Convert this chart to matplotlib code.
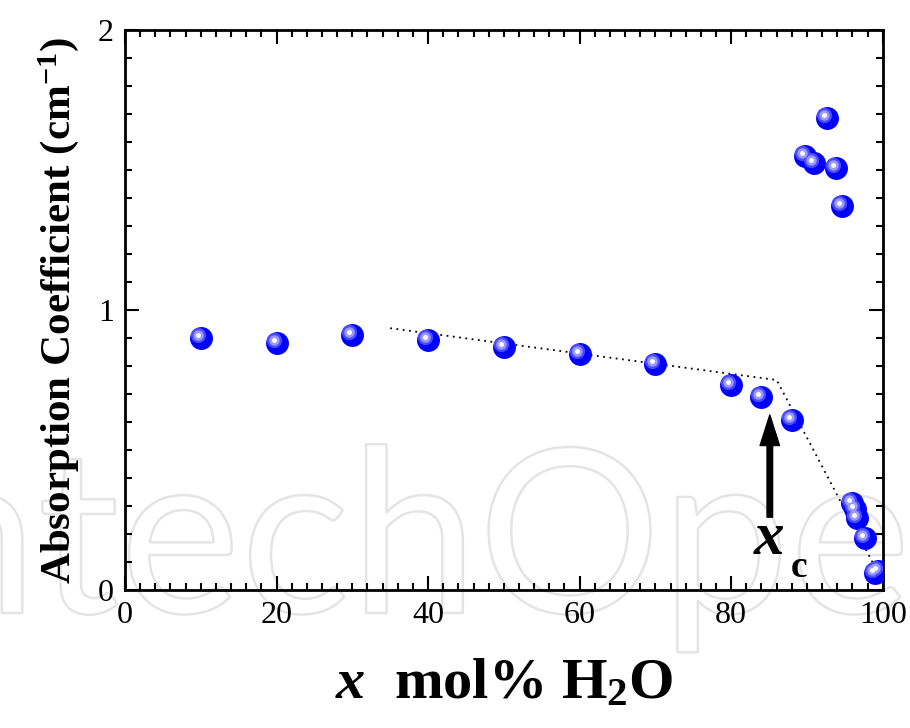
from matplotlib import pyplot as plt
from matplotlib import transforms
import matplotlib.patheffects as pe

plt.rcParams['font.family'] = 'Liberation Serif'
plt.rcParams['mathtext.fontset'] = 'custom'
plt.rcParams['mathtext.rm'] = 'Liberation Serif:bold'
plt.rcParams['mathtext.bf'] = 'Liberation Serif:bold'
plt.rcParams['mathtext.it'] = 'Liberation Serif:italic:bold'

# Data
x_mol = [10, 20, 30, 40, 50, 60, 70, 80, 84, 88,
         89.8, 90.9, 92.6, 93.9, 94.6,
         95.9, 96.3, 96.6, 97.6, 99.0, 99.4]
absorption = [0.900, 0.882, 0.911, 0.893, 0.868, 0.843, 0.807, 0.732, 0.689, 0.607,
              1.550, 1.525, 1.686, 1.507, 1.371,
              0.311, 0.290, 0.256, 0.185, 0.062, 0.068]

# dotted guide line
guide_x = [35, 86, 100]
guide_y = [0.935, 0.75, 0.03]

fig = plt.figure(figsize=(9.1, 7.28), dpi=100)
ax = fig.add_axes([0.1374, 0.1896, 0.8326, 0.7692])
ax.patch.set_alpha(0)
ax.set_zorder(2)

# faint outlined watermark behind the plot
wm = fig.text(-0.17, 0.158, 'IntechOpen', family='Lato', fontsize=165,
              color=(1, 1, 1, 0), zorder=-5)
wm.set_path_effects([pe.withStroke(linewidth=1.8, foreground='#e4e4e4')])

ax.plot(guide_x, guide_y, color='black', linestyle=(0, (1, 2.5)), linewidth=1.3, zorder=2)

# spheres: blue ball with a soft highlight
ax.plot(x_mol, absorption, 'o', markersize=16.5, color='#0000ff', markeredgewidth=0, zorder=3)
shift = transforms.offset_copy(ax.transData, fig=fig, x=-3, y=3, units='dots')
ax.plot(x_mol, absorption, 'o', markersize=11, color='#4a4aff', markeredgewidth=0,
        transform=shift, zorder=4)
ax.plot(x_mol, absorption, 'o', markersize=7.5, color='#9a9aff', markeredgewidth=0,
        transform=shift, zorder=5)
ax.plot(x_mol, absorption, 'o', markersize=3.5, color='white', markeredgewidth=0,
        transform=shift, zorder=6)

# x_c arrow and label
ax.annotate('', xy=(85.1, 0.625), xytext=(85.1, 0.26),
            arrowprops=dict(facecolor='black', edgecolor='black', width=4,
                            headwidth=14, headlength=22), zorder=7)
ax.text(85.0, 0.18, '$x$', fontsize=44, ha='center', va='center', zorder=7)
ax.text(89.0, 0.08, 'c', fontsize=27, fontweight='bold', ha='center', va='center', zorder=7)

ax.set_xlim(0, 100)
ax.set_ylim(0, 2)
ax.set_xticks([0, 20, 40, 60, 80, 100])
ax.set_xticks(range(0, 101, 2), minor=True)
ax.set_yticks([0, 1, 2])
ax.set_yticks([i / 10 for i in range(21)], minor=True)
ax.tick_params(which='both', direction='in', top=True, right=True, labelsize=23, width=1.5)
ax.tick_params(which='major', length=10, pad=8)
ax.tick_params(which='minor', length=5)
for s in ax.spines.values():
    s.set_linewidth(2)

ax.set_ylabel('Absorption Coefficient (cm$^{-1}$)', fontsize=31, fontweight='bold', labelpad=12)
ax.set_xlabel('$x$  mol% H$_2$O', fontsize=42, fontweight='bold', labelpad=20)

fig.savefig('out.png', dpi=100)
